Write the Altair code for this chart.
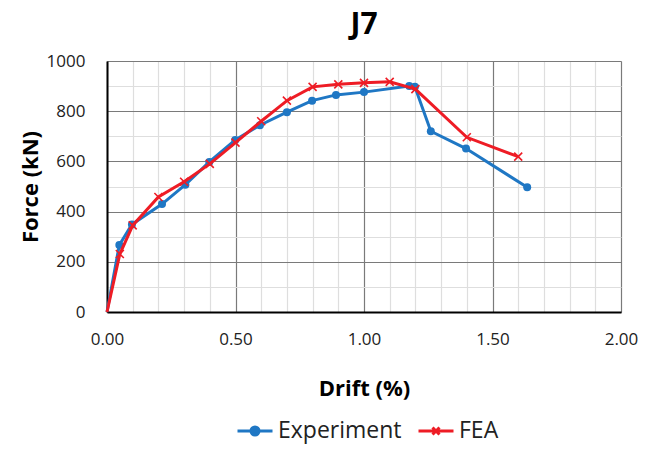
import altair as alt
import pandas as pd

# ---- data ----
exp_drift = [0, 0.048, 0.097, 0.214, 0.305, 0.398, 0.499, 0.595, 0.70, 0.798, 0.891, 1.0, 1.176, 1.198, 1.26, 1.397, 1.635]
exp_force = [0, 267, 349, 430, 507, 598, 685, 744, 796, 842, 865, 876, 900, 897, 720, 651, 497]

fea_drift = [0, 0.05, 0.1, 0.2, 0.3, 0.4, 0.5, 0.6, 0.7, 0.8, 0.9, 1.0, 1.1, 1.2, 1.4, 1.6]
fea_force = [0, 231, 345, 458, 519, 590, 675, 760, 842, 897, 907, 913, 917, 888, 696, 619]

series_names = ["Experiment", "FEA"]
series_colors = ["#1f77c4", "#ee1c25"]

x_ticks = [0, 0.1, 0.2, 0.3, 0.4, 0.5, 0.6, 0.7, 0.8, 0.9, 1.0, 1.1, 1.2, 1.3, 1.4, 1.5, 1.6, 1.7, 1.8, 1.9, 2.0]
y_ticks = [0, 100, 200, 300, 400, 500, 600, 700, 800, 900, 1000]

FONT = "Open Sans"

exp_df = pd.DataFrame({"drift": exp_drift, "force": exp_force, "series": series_names[0]})
fea_df = pd.DataFrame({"drift": fea_drift, "force": fea_force, "series": series_names[1]})
all_df = pd.concat([exp_df, fea_df], ignore_index=True)

x_scale = alt.Scale(domain=[0, 2], nice=False, zero=False)
y_scale = alt.Scale(domain=[0, 1000], nice=False)

x_axis = alt.Axis(
    values=x_ticks, title="Drift (%)", format=".2f",
    labelExpr="abs(datum.value*2 - round(datum.value*2)) < 1e-6 ? datum.label : ''",
    labelOverlap=False, labelFlush=False, ticks=False, labelPadding=19,
    gridColor={"condition": {"test": "abs(datum.value*2 - round(datum.value*2)) < 1e-6", "value": "#7a7a7a"}, "value": "#dedede"},
    gridWidth=1.2, domainColor="#000000", domainWidth=2,
    labelFont=FONT, labelFontSize=17, labelColor="#222222",
    titleFont=FONT, titleFontSize=22, titleFontWeight="bold", titleColor="#000000", titlePadding=31,
)
y_axis = alt.Axis(
    values=y_ticks, title="Force (kN)", format="d",
    labelExpr="datum.value % 200 === 0 ? datum.label : ''",
    labelOverlap=False, ticks=False, labelPadding=22,
    gridColor={"condition": {"test": "datum.value % 200 === 0", "value": "#7a7a7a"}, "value": "#dedede"},
    gridWidth=1.2, domainColor="#000000", domainWidth=2,
    labelFont=FONT, labelFontSize=17, labelColor="#222222",
    titleFont=FONT, titleFontSize=22, titleFontWeight="bold", titleColor="#000000", titlePadding=4,
)

X = alt.X("drift:Q", scale=x_scale, axis=x_axis)
Y = alt.Y("force:Q", scale=y_scale, axis=y_axis)

exp_line = alt.Chart(exp_df).mark_line(strokeWidth=3, color=series_colors[0]).encode(x=X, y=Y)
exp_pts = alt.Chart(exp_df).transform_filter("datum.force > 0").mark_point(
    filled=True, size=64, opacity=1, color=series_colors[0]).encode(x=X, y=Y)
fea_line = alt.Chart(fea_df).mark_line(strokeWidth=3, color=series_colors[1]).encode(x=X, y=Y)
fea_pts = alt.Chart(fea_df).transform_filter("datum.force > 0").mark_point(
    filled=False, size=64, opacity=1, strokeWidth=1.6, color=series_colors[1],
    shape="M-1,-1L1,1M-1,1L1,-1",
).encode(x=X, y=Y)

legend_shapes = [
    "M-1,0H1M0.23,0A0.23,0.23,0,1,1,-0.23,0A0.23,0.23,0,1,1,0.23,0",
    "M-1,0H1M-0.2,-0.2L0.2,0.2M-0.2,0.2L0.2,-0.2",
]
leg = alt.Legend(
    title=None, orient="none", direction="horizontal", legendX=129, legendY=351,
    symbolSize=1225, symbolStrokeWidth=3, labelFont=FONT, labelFontSize=23, labelColor="#222222",
    labelOffset=4, columnPadding=10, symbolOpacity=1,
)
legend_layer = alt.Chart(all_df).transform_filter("datum.drift < 0").mark_point(
    filled=True, size=1225, opacity=1
).encode(
    x=X, y=Y,
    color=alt.Color("series:N", scale=alt.Scale(domain=series_names, range=series_colors), legend=leg),
    stroke=alt.Stroke("series:N", scale=alt.Scale(domain=series_names, range=series_colors), legend=leg),
    shape=alt.Shape("series:N", scale=alt.Scale(domain=series_names, range=legend_shapes), legend=leg),
)

chart = alt.layer(exp_line, exp_pts, fea_line, fea_pts, legend_layer).properties(
    width=514, height=251,
    padding={"left": 107, "top": 61, "right": 34, "bottom": 137},
    autosize="none",
    title=alt.Title("J7", fontSize=30, font=FONT, fontWeight="bold", anchor="middle", offset=12, color="#000000"),
).configure_view(stroke="#7a7a7a", strokeWidth=1.2).configure(background="white")

chart.save("out.html", embed_options={"renderer": "svg", "actions": False})
